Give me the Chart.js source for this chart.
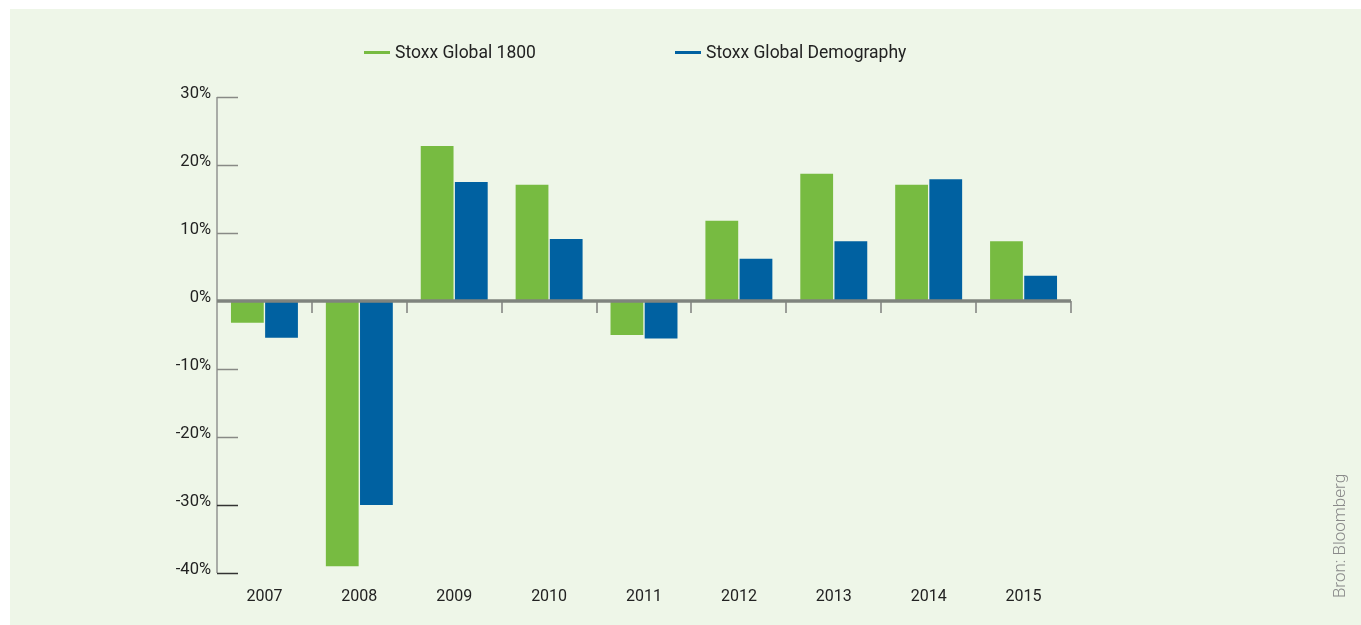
<!DOCTYPE html>
<html>
<head>
<meta charset="utf-8">
<script src="https://cdn.jsdelivr.net/npm/chart.js@4"></script>
<style>
    html, body { margin: 0; padding: 0; background: #ffffff; }
    #wrap { position: relative; width: 1361px; height: 625px; }
    #legend { position: absolute; left: 0; top: 41px; font: 17.5px Roboto, sans-serif; color: #222; }
    .item { position: absolute; white-space: nowrap; line-height: 22px; }
    .item i { display: inline-block; width: 26px; height: 3px; vertical-align: middle; margin-right: 5px; position: relative; top: -1px; }
</style>
</head>
<body>
<div id="wrap">
    <canvas id="chart" width="1361" height="625"></canvas>
    <div id="legend"></div>
</div>
<script>
// Jaarlijks rendement
const years = ['2007', '2008', '2009', '2010', '2011', '2012', '2013', '2014', '2015'];
const global1800 = [-3.2, -39.0, 22.8, 17.1, -5.0, 11.8, 18.7, 17.1, 8.8];
const demography = [-5.4, -30.0, 17.5, 9.1, -5.5, 6.2, 8.8, 17.9, 3.7];
const seriesNames = ['Stoxx Global 1800', 'Stoxx Global Demography'];
const seriesColors = ['#77bb41', '#0061a1'];
const yTicks = [30, 20, 10, 0, -10, -20, -30, -40];

const FONT = 'Roboto, sans-serif';

// background panel + source text
const panelPlugin = {
    id: 'panel',
    beforeDraw(chart) {
        const c = chart.ctx;
        c.save();
        c.fillStyle = '#eef6e8';
        c.fillRect(10, 9, chart.width - 10, chart.height - 9);
        c.translate(1341, 536);
        c.rotate(-Math.PI / 2);
        c.font = '300 17px ' + FONT;
        c.fillStyle = '#8a8a8a';
        c.textAlign = 'center';
        c.textBaseline = 'middle';
        c.fillText('Bron: Bloomberg', 0, 0);
        c.restore();
    }
};

// axis line, tick marks, zero line
const axesPlugin = {
    id: 'axesLines',
    afterDatasetsDraw(chart) {
        const c = chart.ctx;
        const y = chart.scales.y;
        const left = chart.chartArea.left;
        const right = chart.chartArea.right;
        c.save();
        // y axis line
        c.strokeStyle = '#a9aca7';
        c.lineWidth = 2;
        c.beginPath();
        c.moveTo(left, y.getPixelForValue(30));
        c.lineTo(left, y.getPixelForValue(-40));
        c.stroke();
        // y tick marks (pointing right)
        yTicks.forEach(v => {
            if (v === 0) return;
            const py = Math.round(y.getPixelForValue(v)) + 0.5;
            c.strokeStyle = v <= -30 ? '#333333' : '#888a86';
            c.lineWidth = 1.5;
            c.beginPath();
            c.moveTo(left, py);
            c.lineTo(left + 21, py);
            c.stroke();
        });
        // category boundary ticks
        const y0 = y.getPixelForValue(0);
        const step = (right - left) / years.length;
        c.strokeStyle = '#9a9d98';
        c.lineWidth = 2;
        for (let i = 1; i <= years.length; i++) {
            const px = Math.round(left + step * i);
            c.beginPath();
            c.moveTo(px, y0);
            c.lineTo(px, y0 + 12);
            c.stroke();
        }
        // zero line
        c.strokeStyle = '#7f847e';
        c.lineWidth = 3.5;
        c.beginPath();
        c.moveTo(left, y0);
        c.lineTo(right, y0);
        c.stroke();
        c.restore();
    }
};

new Chart(document.getElementById('chart'), {
    type: 'bar',
    data: {
        labels: years,
        datasets: [
            { label: seriesNames[0], data: global1800, backgroundColor: seriesColors[0] },
            { label: seriesNames[1], data: demography, backgroundColor: seriesColors[1] }
        ]
    },
    options: {
        responsive: false,
        animation: false,
        categoryPercentage: 0.72,
        barPercentage: 0.96,
        layout: { padding: { left: 157, right: 290, top: 97, bottom: 12 } },
        plugins: { legend: { display: false }, tooltip: { enabled: false } },
        scales: {
            x: {
                grid: { display: false, drawTicks: false },
                border: { display: false },
                ticks: { color: '#222', font: { family: FONT, size: 16 }, padding: 14, maxRotation: 0 },
                afterFit(scale) { scale.height = 40; }
            },
            y: {
                min: -40,
                max: 30,
                afterBuildTicks(scale) { scale.ticks = yTicks.map(v => ({ value: v })); },
                grid: { display: false, drawTicks: false },
                border: { display: false },
                ticks: { color: '#222', font: { family: FONT, size: 16.5 }, padding: 6, labelOffset: -3, callback: v => v + '%' },
                afterFit(scale) { scale.width = 60; }
            }
        }
    },
    plugins: [panelPlugin, axesPlugin]
});

// legend
const legend = document.getElementById('legend');
const legendX = [364, 675];
seriesNames.forEach((name, i) => {
    const d = document.createElement('div');
    d.className = 'item';
    d.style.left = legendX[i] + 'px';
    d.innerHTML = '<i style="background:' + seriesColors[i] + '"></i>' + name;
    legend.appendChild(d);
});
</script>
</body>
</html>
